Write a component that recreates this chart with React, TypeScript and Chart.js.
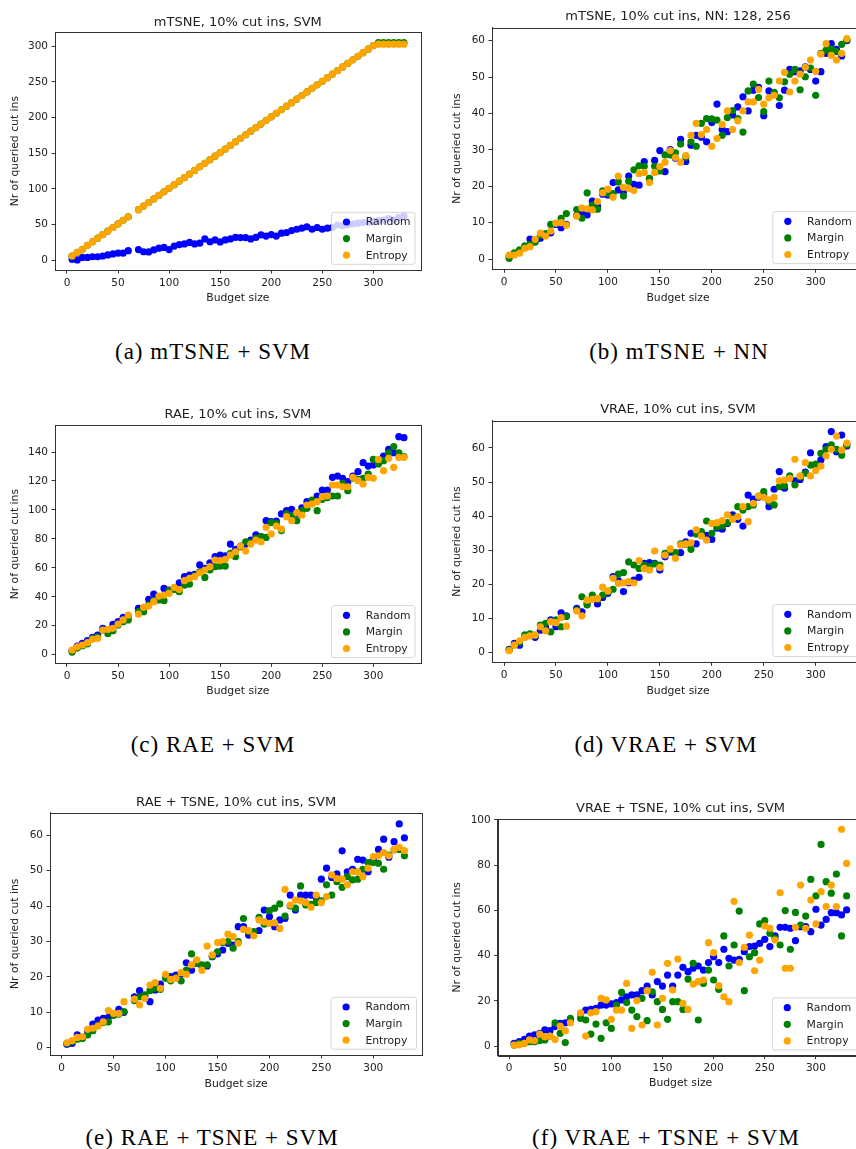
import React, { useEffect, useRef } from "react";
import { Chart, registerables } from "chart.js";

Chart.register(...registerables);

// ---------------- data ----------------
const budget = [5, 10, 15, 20, 25, 30, 35, 40, 45, 50, 55, 60, 65, 70, 75, 80, 85, 90, 95, 100, 105, 110, 115, 120, 125, 130, 135, 140, 145, 150, 155, 160, 165, 170, 175, 180, 185, 190, 195, 200, 205, 210, 215, 220, 225, 230, 235, 240, 245, 250, 255, 260, 265, 270, 275, 280, 285, 290, 295, 300, 305, 310, 315, 320, 325, 330];

const xTicks = [0, 50, 100, 150, 200, 250, 300];
const yTicksA = [0, 50, 100, 150, 200, 250, 300];
const yTicksB = [0, 10, 20, 30, 40, 50, 60];
const yTicksC = [0, 20, 40, 60, 80, 100, 120, 140];
const yTicksD = [0, 10, 20, 30, 40, 50, 60];
const yTicksE = [0, 10, 20, 30, 40, 50, 60];
const yTicksF = [0, 20, 40, 60, 80, 100];

const seriesNames = ["Random", "Margin", "Entropy"];
const seriesColors = ["#0000ff", "#008000", "#ffa500"];

// (a) mTSNE + SVM
const aRandom = [1.4, 0.5, 4, 4, 5, 5, 6, 7.5, 9, 10, 10, 13.5, null, 15, 12, 11.7, 14.5, 17, 18, 15, 20, 22, 23, 25, 23, 24, 30, 26, 28.5, 25.7, 28.5, 30, 32, 31.8, 31.8, 30, 32, 35.5, 34, 36, 34, 38, 39, 41.6, 43.5, 45, 47, 43.5, 46, 43.5, 45, 46, 49.5, 48.6, 50, 51, 52, 53, 53, 54.7, 55.6, 56.5, 58.4, 56.5, 60, 62];
const aMargin = [6, 11, 15, 21, 26, 31, 36, 41, 46, 51, 56, 61, null, 71, 76, 81, 86, 91, 96, 101, 106, 111, 116, 121, 126, 131, 136, 141, 146, 151, 156, 161, 166, 171, 176, 181, 186, 191, 196, 201, 206, 211, 216, 221, 226, 231, 236, 241, 246, 251, 256, 261, 266, 271, 276, 281, 286, 291, 296, 301, 305, 305, 305, 305, 305, 305];
const aEntropy = [6, 11, 15, 21, 26, 31, 36, 41, 46, 51, 56, 61, null, 71, 76, 81, 86, 91, 96, 101, 106, 111, 116, 121, 126, 131, 136, 141, 146, 151, 156, 161, 166, 171, 176, 181, 186, 191, 196, 201, 206, 211, 216, 221, 226, 231, 236, 241, 246, 251, 256, 261, 266, 271, 276, 281, 286, 291, 296, 301, 303, 303, 303, 303, 303, 303];

// (b) mTSNE + NN
const bRandom = [0.8, 1.5, 2, 3.2, 5.5, 5, 5.7, 6.5, 7.2, 9.5, 8.6, 9.5, null, 12, 12.5, 12.1, 15.9, 14.5, 17.8, 17.6, 21, 19, 18.5, 22.8, 20.5, 20.3, 26.8, 22, 27.1, 29.8, 24, 30.1, 27.7, 32.9, 26.8, 31.3, 34, 33.5, 32.2, 37.5, 42.6, 35.6, 35, 39.6, 41.8, 44.6, 40.7, 46.4, 47.2, 39.4, 46.2, 45.5, 42.2, 46.4, 52.1, 51.5, 51.7, 52.8, 52.1, 48.9, 51.5, 56.5, 59.2, 57.6, 55.8, 60];
const bMargin = [0.2, 1.7, 2.5, 3.6, 4, 4.6, 6.5, 7, 9.5, 9.8, 11.2, 12.5, null, 13.6, 11.2, 18.2, 14.8, 13.7, 18.7, 18, 18, 21.2, 17.3, 21.4, 24.5, 25.6, 25.5, 22.2, 25.5, 24.2, 28.6, 28.6, 29.2, 31.6, 28, 32.2, 31, 37.3, 38.6, 38.5, 38.2, 34, 38.9, 40.8, 38.6, 34.9, 46.2, 48.1, 44.4, 40.5, 48.9, 45.8, 44.3, 48.7, 50.8, 52.1, 46.5, 50.1, 52.5, 45, 56.5, 57.4, 57.8, 57, 59, 60.2];
const bEntropy = [1.1, 1.1, 1.6, 2.9, 3.4, 5.4, 7.1, 6.3, 7.7, 9.8, 10, 9.3, null, 11.8, 14, 13.8, 13.5, 15.8, 18.2, 19.2, 17, 22.8, 19.7, 19.4, 18.8, 23.5, 23.8, 21, 23.8, 25.4, 26.6, 29.8, 27.9, 26.6, 28.4, 34, 37.3, 34.2, 35.6, 31, 33.1, 37, 40.7, 35.6, 38, 40.7, 43.2, 43.2, 46.6, 42.6, 44.3, 45, 48.9, 51.3, 45.9, 48.9, 50.8, 52.7, 54.7, 51.6, 56.3, 59.2, 56, 54.7, 56.5, 60.6];

// (c) RAE + SVM
const cRandom = [2.8, 6, 7.8, 9.7, 12, 13.6, 18.2, 17, 21, 22.8, 25.8, 26.7, null, 32, 32, 38.2, 41.9, 39.6, 45.8, 44.7, 45.5, 49.7, 53.9, 55, 55.5, 62, 59.6, 63.5, 67.7, 68.8, 68.2, 76.4, 72.8, 75, 76.4, 79.2, 82.7, 81.5, 92.6, 91.9, 92.3, 97.2, 99.5, 100.4, 97.6, 101.5, 105.7, 105, 109.6, 113.7, 113.7, 122.5, 123.4, 121.8, 119.5, 123.4, 126.4, 132.6, 130.3, 131, 132.6, 137.2, 141.8, 139.5, 150.6, 149.9];
const cMargin = [1.8, 4.6, 6, 7.4, 11.3, 12.4, 17, 14.7, 16.6, 20.5, 22.8, 24, null, 29.7, 29.7, 34.3, 37.3, 37.8, 37.3, 44.2, 45, 43.5, 48, 48.8, 54.5, 57.3, 53.4, 58.5, 60.8, 61.2, 61.2, 70, 67.7, 74.5, 78, 77.4, 80.4, 81.5, 81, 91.2, 90.7, 85.7, 97.2, 95.8, 92.6, 99.5, 101.1, 106.8, 99.5, 107.3, 108.5, 109.6, 109.6, 118.4, 113.3, 122, 121.1, 121.8, 124.8, 134.9, 131.7, 134, 139.5, 143.7, 139.5, 136.8];
const cEntropy = [3.2, 5.5, 6.7, 8.3, 10.6, 11.3, 17, 17.5, 18.2, 21.2, 24, 27.4, null, 28, 32.7, 33.6, 36.6, 40.5, 41.2, 42.4, 46.5, 45, 51.1, 52.7, 53.9, 56.6, 58.5, 60.8, 65.4, 65, 65.9, 68.8, 71.1, 75, 71.6, 76.4, 79.2, 78, 88, 83.4, 88.9, 86.8, 95.3, 92.6, 98.1, 96.5, 103.4, 104.1, 105.7, 109.1, 109.6, 117.2, 117.2, 116, 116, 122.5, 120.2, 117.9, 122.5, 121.8, 134.9, 127.1, 135.6, 129.4, 136.3, 136.3];

// (d) VRAE + SVM
const dRandom = [1, 2.7, 2.2, 4.6, 5, 4.5, 6.6, 7.5, 9.6, 7.6, 11.7, 10.8, null, 13, 12, 14.5, 16, 14.3, 16.2, 17.4, 22.3, 21.1, 17.9, 20.5, 21.3, 22.1, 26.2, 26.4, 26.2, 24.2, 28.1, 29.5, 29.1, 29.3, 32.5, 35, 31.9, 34.6, 34.4, 33.2, 36.5, 36.2, 37.9, 40.4, 39.1, 37.1, 46.2, 45, 45.6, 46.2, 42.8, 47.9, 53.1, 48.2, 51.2, 50.4, 50.8, 52.9, 58.6, 54.7, 56.5, 60.4, 64.8, 58.9, 63.8, 60.6];
const dMargin = [0.8, 2.3, 3, 5.2, 5.5, 5, 8.1, 8.6, 6.1, 9.6, 7.6, 10.6, null, 12.5, 16.4, 14, 16.9, 15.6, 16.9, 17.8, 18.6, 23, 23.5, 26.6, 25.7, 24.7, 25.7, 25.2, 26, 25.7, 29.1, 30.1, 29.3, 31.9, 31.8, 30.3, 34.8, 35.5, 38.6, 35, 36.9, 37.1, 38.1, 39.5, 42.8, 41.8, 42.8, 43.3, 45.9, 47.2, 44.3, 43.3, 48.7, 48.9, 51.8, 49.2, 51.5, 52.6, 55, 55.3, 58.4, 59.6, 60.9, 59.6, 57.9, 60.9];
const dEntropy = [0.6, 2.2, 3.5, 4.5, 4.9, 5.2, 7.6, 6.4, 9.1, 8.8, 10.3, 7.8, null, 12.2, 10.8, 15.4, 15.6, 15.9, 19.2, 18.1, 21.8, 20.3, 20.5, 20.8, 20.5, 27, 24.7, 24.2, 29.8, 25, 28.6, 30.4, 27.7, 31.6, 31.9, 32.2, 36, 34.2, 33, 37.9, 38.1, 38.7, 40.4, 39.1, 39.9, 42.8, 38.4, 43.8, 45.9, 45.5, 44.8, 45.5, 50.4, 50.6, 51.1, 56.7, 51.8, 55.7, 51.8, 53.4, 54.7, 57.7, 59.6, 63.5, 59.4, 61.4];

// (e) RAE + TSNE + SVM
const eRandom = [1, 1.2, 3.6, 2.9, 4.5, 6.7, 7.8, 8.3, 8.6, 9.3, 10.8, 10, null, 14.4, 16.1, 14.5, 13, 16.3, 18, 20.1, 20.1, 20.5, 20.8, 24, 21.9, 24.3, 23, 23.1, 25.7, 26.5, 27.6, 29.5, 29, 34.2, 34.2, 31.8, 32.6, 33.1, 38.9, 37, 34.2, 36.1, 36.5, 43.1, 38.9, 43.1, 43.1, 43.1, 42.5, 47.6, 50.7, 48.1, 49.1, 55.6, 49.7, 50.4, 53.2, 53, 49.7, 53, 56, 58.9, 53.8, 58.2, 63.2, 59.3];
const eMargin = [1.2, 1.7, 2.4, 2.6, 3.6, 4.8, 6.4, 7.1, 7.3, 9.2, 9.5, 10.2, null, 13.3, 14.4, 14.9, 16.1, 16.8, 16.5, 19.6, 18.9, 19.8, 18.9, 21.9, 26.5, 23.8, 23.4, 23.4, 25.8, 27.1, 29.7, 30, 28.1, 30, 36.5, 32.8, 32.8, 36.8, 34.9, 38.7, 39.4, 40.6, 37.2, 40, 39.4, 45.7, 40.3, 40.5, 41, 41.5, 46, 43.1, 46.9, 45.3, 48.3, 47.4, 47.6, 50.4, 52.3, 52.3, 52.1, 50.4, 54.4, 55.9, 56, 54.2];
const eEntropy = [1.4, 2, 2.9, 3.1, 5.2, 5.5, 6.1, 7.3, 10.5, 9.7, 9.7, 13, null, 13.7, 12.1, 13.9, 17.7, 18.4, 16.8, 20.7, 19.3, 19.6, 21.2, 20.7, 23.4, 24.8, 21.9, 28.7, 26.2, 29.7, 30, 32.1, 31.4, 29.5, 33.4, 33.1, 31.6, 36.1, 35.6, 35.1, 35.3, 33.7, 44.7, 40.3, 41.7, 41.5, 41, 39.7, 43.1, 41, 42.7, 48.8, 47.8, 47.6, 46, 49.7, 49.7, 48.3, 50.7, 54, 54.2, 55.1, 54.2, 56, 56.6, 55.7];

// (f) VRAE + TSNE + SVM
const fRandom = [1.2, 1.9, 2.9, 4.4, 4.9, 5.6, 7.1, 6.8, 8.6, 10, 10.3, 11.5, null, 14.5, 15.9, 16.2, 16.7, 18.1, 18.1, 18.6, 19.2, 20.4, 21.8, 22.6, 22.6, 24.5, 26.5, 22.6, 28.5, 26.5, 31.4, 26.5, 31.4, 34.8, 32.9, 34.4, 35.4, 33.6, 36.9, 39.5, 36.9, 42.8, 38.8, 38, 38.3, 41.7, 44, 44.2, 45.4, 47.2, 44, 48.7, 52.5, 52.5, 52.1, 46.6, 52.8, 52.8, 50.6, 60.5, 53.5, 56, 59, 59, 58, 60.2];
const fMargin = [0.4, 1.2, 1.2, 1.9, 1.9, 2.4, 2.7, 4.4, 10.3, 5.6, 1.5, 12.2, null, 12.2, 11.5, 5.3, 9.7, 3.4, 10.3, 7.8, 18.1, 23.7, 19.2, 15.9, 13, 21.1, 11.2, 24, 19.6, 16.2, 11.8, 19.6, 19.6, 16.2, 29.6, 36.6, 11.5, 27.7, 33.6, 29.2, 25.1, 48.7, 35.4, 44.7, 59.7, 24.5, 39.5, 41.3, 54, 55.5, 49.9, 47.6, 44.7, 59.9, 42.8, 59.1, 53.5, 57.5, 73.7, 66.4, 89.2, 72.7, 67.6, 76.1, 48.7, 66.4];
const fEntropy = [0.4, 0.5, 1.2, 2.7, 2.4, 5.3, 4.1, 4.4, 2.9, 8.8, 6.8, 10.3, null, 14.7, 4.4, 14.7, 15.2, 21.1, 20.4, 11.8, 15.9, 15.9, 27.7, 7.8, 20.1, 9.3, 24.5, 32.6, 9.3, 21.1, 36.6, 24.8, 38.5, 18.9, 16.2, 27.4, 28.5, 29.2, 45.7, 41.3, 26.7, 21.8, 19.6, 64, 36.9, 43.7, 49.1, 33.3, 38, 53.1, 52.1, 46.9, 67.8, 34.4, 34.4, 52.5, 71.2, 52.1, 64.6, 54, 68.3, 61.7, 71.2, 61.7, 95.9, 80.8];

// ---------------- layout ----------------
const FONT = '"DejaVu Sans", sans-serif';
const TICK_SIZE = 10.5;
const LABEL_SIZE = 10.8;
const TITLE_SIZE = 13;
const TEXT_COLOR = "#222";
const AXIS_COLOR = "#333";
const POINT_RADIUS = 3.6;

type Area = { l: number; t: number; r: number; b: number };
type PanelSpec = {
  key: string;
  left: number;
  top: number;
  width: number;
  height: number;
  area: Area;
  xMin: number;
  xMax: number;
  yMin: number;
  yMax: number;
  yTicks: number[];
  title: string;
  titleY: number;
  xLabelY: number;
  yLabelX: number;
  legendW: number;
  values: (number | null)[][];
};

const panels: PanelSpec[] = [
  {
    key: "a", left: 0, top: 0, width: 430, height: 320,
    area: { l: 55, t: 32.3, r: 420.7, b: 270 },
    xMin: -11.75, xMax: 346.4, yMin: -13.6, yMax: 319.6, yTicks: yTicksA,
    title: "mTSNE, 10% cut ins, SVM", titleY: 22.3, xLabelY: 298, yLabelX: 15, legendW: 83.5,
    values: [aRandom, aMargin, aEntropy],
  },
  {
    key: "b", left: 430, top: 0, width: 440, height: 320,
    area: { l: 62, t: 27.7, r: 434, b: 269.3 },
    xMin: -11.55, xMax: 346.5, yMin: -2.83, yMax: 63.58, yTicks: yTicksB,
    title: "mTSNE, 10% cut ins, NN: 128, 256", titleY: 16.7, xLabelY: 297.7, yLabelX: 27.3, legendW: 85.5,
    values: [bRandom, bMargin, bEntropy],
  },
  {
    key: "c", left: 0, top: 390, width: 430, height: 320,
    area: { l: 55, t: 35, r: 420.7, b: 273.3 },
    xMin: -11.75, xMax: 346.4, yMin: -5.94, yMax: 158.65, yTicks: yTicksC,
    title: "RAE, 10% cut ins, SVM", titleY: 25, xLabelY: 301, yLabelX: 15, legendW: 83.5,
    values: [cRandom, cMargin, cEntropy],
  },
  {
    key: "d", left: 430, top: 390, width: 440, height: 320,
    area: { l: 62, t: 30.7, r: 434, b: 272.3 },
    xMin: -11.55, xMax: 346.5, yMin: -2.82, yMax: 68.0, yTicks: yTicksD,
    title: "VRAE, 10% cut ins, SVM", titleY: 20, xLabelY: 300.7, yLabelX: 27.3, legendW: 85.5,
    values: [dRandom, dMargin, dEntropy],
  },
  {
    key: "e", left: 0, top: 780, width: 430, height: 320,
    area: { l: 50, t: 32.7, r: 422.3, b: 275 },
    xMin: -11.26, xMax: 347.2, yMin: -2.06, yMax: 66.38, yTicks: yTicksE,
    title: "RAE + TSNE, 10% cut ins, SVM", titleY: 22.7, xLabelY: 303.7, yLabelX: 15, legendW: 85.5,
    values: [eRandom, eMargin, eEntropy],
  },
  {
    key: "f", left: 430, top: 780, width: 440, height: 320,
    area: { l: 67.7, t: 39, r: 433.5, b: 275.7 },
    xMin: -11.05, xMax: 346.5, yMin: -4.29, yMax: 100.44, yTicks: yTicksF,
    title: "VRAE + TSNE, 10% cut ins, SVM", titleY: 28.3, xLabelY: 303.3, yLabelX: 27.3, legendW: 85.5,
    values: [fRandom, fMargin, fEntropy],
  },
];

const captions = [
  { text: "(a) mTSNE + SVM", x: 213, y: 352 },
  { text: "(b) mTSNE + NN", x: 679, y: 352 },
  { text: "(c) RAE + SVM", x: 213, y: 745 },
  { text: "(d) VRAE + SVM", x: 666, y: 745 },
  { text: "(e) RAE + TSNE + SVM", x: 212, y: 1138 },
  { text: "(f) VRAE + TSNE + SVM", x: 666, y: 1138 },
];

function decorPlugin(spec: PanelSpec) {
  return {
    id: "decor" + spec.key,
    afterDraw(chart: any) {
      const { ctx, chartArea: ca } = chart;
      ctx.save();
      // legend (matplotlib style, inside lower right, semi-transparent)
      const bw = spec.legendW;
      const bh = 52;
      const inset = 5.7;
      const bx = ca.right - inset - bw;
      const by = ca.bottom - inset - bh;
      const r = 2.5;
      ctx.beginPath();
      ctx.moveTo(bx + r, by);
      ctx.lineTo(bx + bw - r, by);
      ctx.arcTo(bx + bw, by, bx + bw, by + r, r);
      ctx.lineTo(bx + bw, by + bh - r);
      ctx.arcTo(bx + bw, by + bh, bx + bw - r, by + bh, r);
      ctx.lineTo(bx + r, by + bh);
      ctx.arcTo(bx, by + bh, bx, by + bh - r, r);
      ctx.lineTo(bx, by + r);
      ctx.arcTo(bx, by, bx + r, by, r);
      ctx.closePath();
      ctx.fillStyle = "rgba(255,255,255,0.8)";
      ctx.fill();
      ctx.strokeStyle = "rgba(204,204,204,0.8)";
      ctx.lineWidth = 1;
      ctx.stroke();
      ctx.font = `${LABEL_SIZE}px ${FONT}`;
      ctx.textAlign = "left";
      ctx.textBaseline = "middle";
      seriesNames.forEach((name, i) => {
        const cy = by + 9.7 + i * 16.6;
        ctx.beginPath();
        ctx.arc(bx + 15, cy, POINT_RADIUS, 0, Math.PI * 2);
        ctx.fillStyle = seriesColors[i];
        ctx.fill();
        ctx.fillStyle = TEXT_COLOR;
        ctx.fillText(name, bx + 34.3, cy + 0.5);
      });
      // axes frame
      ctx.strokeStyle = AXIS_COLOR;
      ctx.lineWidth = 1;
      ctx.strokeRect(
        Math.round(ca.left) + 0.5,
        Math.round(ca.top) + 0.5,
        Math.round(ca.right) - Math.round(ca.left),
        Math.round(ca.bottom) - Math.round(ca.top)
      );
      // title
      ctx.font = `${TITLE_SIZE}px ${FONT}`;
      ctx.fillStyle = TEXT_COLOR;
      ctx.textAlign = "center";
      ctx.textBaseline = "middle";
      ctx.fillText(spec.title, (ca.left + ca.right) / 2, spec.titleY);
      ctx.restore();
    },
  };
}

function Panel({ spec }: { spec: PanelSpec }) {
  const ref = useRef<HTMLCanvasElement | null>(null);
  useEffect(() => {
    if (!ref.current) return;
    const lh = LABEL_SIZE * 1.2;
    const s = spec;
    const chart = new Chart(ref.current, {
      type: "scatter",
      data: {
        datasets: s.values.map((vals, si) => ({
          label: seriesNames[si],
          data: budget.flatMap((x, i) =>
            vals[i] === null || vals[i] === undefined ? [] : [{ x, y: vals[i] as number }]
          ),
          backgroundColor: seriesColors[si],
          borderWidth: 0,
          pointRadius: POINT_RADIUS,
          pointHoverRadius: POINT_RADIUS,
          showLine: false,
          // later series are drawn on top, as in matplotlib
          order: seriesNames.length - 1 - si,
        })),
      },
      options: {
        animation: false,
        responsive: false,
        devicePixelRatio: 1,
        events: [],
        layout: { padding: { left: 0, top: s.area.t, right: s.width - s.area.r, bottom: 0 } },
        plugins: {
          legend: { display: false },
          title: { display: false },
          tooltip: { enabled: false },
        },
        scales: {
          x: {
            type: "linear",
            min: s.xMin,
            max: s.xMax,
            afterBuildTicks: (axis: any) => {
              axis.ticks = xTicks.map((v) => ({ value: v }));
            },
            afterFit: (scale: any) => {
              scale.height = s.height - s.area.b;
            },
            grid: { display: true, drawOnChartArea: false, drawTicks: true, tickLength: 3.5, color: AXIS_COLOR },
            border: { display: true, color: AXIS_COLOR },
            ticks: { font: { family: FONT, size: TICK_SIZE }, color: TEXT_COLOR, padding: 3.2, maxRotation: 0, autoSkip: false },
            title: {
              display: true,
              text: "Budget size",
              font: { family: FONT, size: LABEL_SIZE },
              color: TEXT_COLOR,
              padding: { top: 0, bottom: s.height - s.xLabelY - lh / 2 },
            },
          },
          y: {
            type: "linear",
            min: s.yMin,
            max: s.yMax,
            afterBuildTicks: (axis: any) => {
              axis.ticks = s.yTicks.map((v) => ({ value: v }));
            },
            afterFit: (scale: any) => {
              scale.width = s.area.l;
            },
            grid: { display: true, drawOnChartArea: false, drawTicks: true, tickLength: 3.5, color: AXIS_COLOR },
            border: { display: true, color: AXIS_COLOR },
            ticks: { font: { family: FONT, size: TICK_SIZE }, color: TEXT_COLOR, padding: 3.5, autoSkip: false },
            title: {
              display: true,
              text: "Nr of queried cut ins",
              font: { family: FONT, size: LABEL_SIZE },
              color: TEXT_COLOR,
              padding: { top: s.yLabelX - lh / 2, bottom: 0 },
            },
          },
        },
      } as any,
      plugins: [decorPlugin(s)],
    });
    return () => chart.destroy();
  }, [spec]);
  return (
    <canvas
      ref={ref}
      width={spec.width}
      height={spec.height}
      style={{ position: "absolute", left: spec.left, top: spec.top, width: spec.width, height: spec.height }}
    />
  );
}

export default function App() {
  return (
    <div
      style={{
        position: "absolute",
        left: 0,
        top: 0,
        width: 856,
        height: 1149,
        overflow: "hidden",
        background: "#ffffff",
      }}
    >
      {panels.map((p) => (
        <Panel key={p.key} spec={p} />
      ))}
      {captions.map((c) => (
        <div
          key={c.text}
          style={{
            position: "absolute",
            left: c.x - 200,
            width: 400,
            top: c.y - 14,
            height: 28,
            lineHeight: "28px",
            textAlign: "center",
            fontFamily: '"Liberation Serif", serif',
            fontSize: 23,
            letterSpacing: "1px",
            color: "#000",
            whiteSpace: "nowrap",
          }}
        >
          {c.text}
        </div>
      ))}
    </div>
  );
}
